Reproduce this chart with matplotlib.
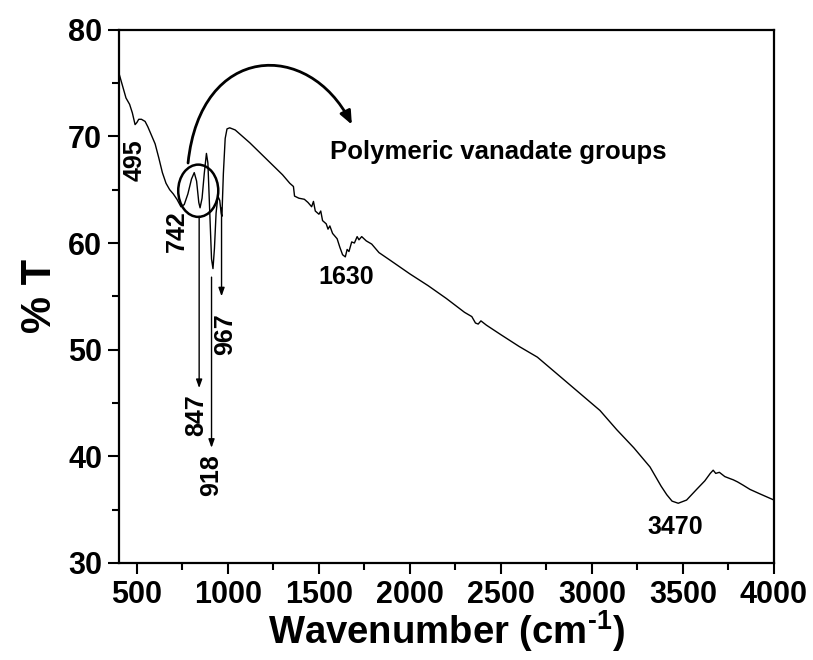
import matplotlib
matplotlib.use("Agg")
import matplotlib.pyplot as plt
from matplotlib.patches import Ellipse, FancyArrowPatch
from matplotlib.path import Path
from matplotlib.ticker import MultipleLocator

# FTIR spectrum (wavenumber in cm-1, %T)
wavenumber = [400, 420, 440, 460, 475, 490, 500, 510, 525, 545, 560, 580, 600, 620, 640,
              660, 680, 700, 720, 742, 760, 780, 800, 815, 828, 840, 847, 858, 870, 882,
              890, 900, 910, 918, 926, 935, 945, 955, 963, 967, 975, 985, 995, 1010, 1040,
              1080, 1120, 1180, 1240, 1300, 1340, 1360, 1366, 1390, 1420, 1440, 1460, 1470,
              1480, 1500, 1510, 1520, 1540, 1550, 1560, 1575, 1600, 1615, 1630, 1645, 1655,
              1665, 1680, 1695, 1710, 1720, 1735, 1760, 1790, 1830, 1890, 2000, 2100, 2200,
              2300, 2340, 2360, 2375, 2390, 2420, 2500, 2600, 2700, 2824, 2934, 3044, 3136,
              3230, 3319, 3380, 3411, 3440, 3474, 3520, 3575, 3620, 3650, 3666, 3680, 3700,
              3730, 3760, 3776, 3800, 3830, 3868, 3920, 3960, 4000]
transmittance = [76.0, 74.8, 73.6, 73.0, 72.2, 71.1, 71.3, 71.6, 71.6, 71.4, 70.9, 70.1, 69.3,
                 68.0, 66.6, 65.6, 65.0, 64.6, 64.1, 63.4, 63.6, 64.6, 66.0, 66.6, 65.8, 63.8,
                 63.3, 64.2, 66.5, 68.4, 67.5, 63.0, 58.5, 57.6, 59.5, 62.8, 64.4, 64.0, 62.8,
                 62.5, 66.5, 69.8, 70.7, 70.8, 70.6, 70.0, 69.4, 68.4, 67.4, 66.4, 65.6, 65.3,
                 64.4, 64.2, 64.1, 63.8, 63.4, 63.9, 63.0, 62.7, 63.0, 62.1, 61.8, 61.3, 61.6,
                 60.9, 60.4, 59.6, 58.9, 58.7, 59.4, 59.2, 60.1, 60.0, 60.6, 60.3, 60.6, 60.2,
                 59.9, 59.1, 58.4, 57.1, 56.0, 54.8, 53.5, 53.1, 52.5, 52.4, 52.7, 52.3, 51.4,
                 50.3, 49.3, 47.5, 45.9, 44.3, 42.5, 40.8, 39.0, 37.2, 36.4, 35.8, 35.6, 35.9,
                 36.9, 37.7, 38.4, 38.7, 38.4, 38.5, 38.1, 37.9, 37.8, 37.6, 37.3, 36.9, 36.5,
                 36.2, 35.9]

# Band assignments: (label, x, y)
band_labels = ["495", "742", "847", "918", "967"]
band_label_x = [489, 722, 828, 907, 986]
band_label_y = [67.8, 61.1, 43.9, 38.2, 51.5]
flat_labels = ["1630", "3470"]
flat_label_x = [1652, 3456]
flat_label_y = [56.8, 33.4]

# Vertical pointer arrows: (x, start y, end y)
arrow_x = [842, 910, 965]
arrow_y0 = [62.5, 56.8, 63.3]
arrow_y1 = [46.4, 40.8, 55.0]

xticks = [500, 1000, 1500, 2000, 2500, 3000, 3500, 4000]
yticks = [30, 40, 50, 60, 70, 80]

plt.rcParams["font.family"] = ["Liberation Sans", "DejaVu Sans"]
plt.rcParams["mathtext.fontset"] = "custom"
plt.rcParams["mathtext.bf"] = "Liberation Sans:bold"
plt.rcParams["mathtext.rm"] = "Liberation Sans:bold"

fig = plt.figure(figsize=(8.13, 6.6), dpi=100)
ax = fig.add_axes([0.146, 0.147, 0.806, 0.808])

ax.plot(wavenumber, transmittance, color="black", lw=1.0)

ax.set_xlim(400, 4000)
ax.set_ylim(30, 80)
ax.set_xticks(xticks)
ax.set_yticks(yticks)
ax.xaxis.set_minor_locator(MultipleLocator(250))
ax.yaxis.set_minor_locator(MultipleLocator(5))
ax.tick_params(which="major", direction="out", length=8, width=1.5, pad=4)
ax.tick_params(which="minor", direction="out", length=5, width=1.5)
for s in ax.spines.values():
    s.set_linewidth(1.6)
for lab in ax.get_xticklabels() + ax.get_yticklabels():
    lab.set_fontweight("bold")
    lab.set_fontsize(22)

ax.set_xlabel("Wavenumber (cm$^{\\text{-1}}$)", fontsize=27.5, fontweight="bold", labelpad=-1)
ax.set_ylabel("% T", fontsize=30, fontweight="bold", labelpad=6)

lab_kw = dict(fontsize=18, fontweight="bold", ha="center", va="center")
for t, x, y in zip(band_labels, band_label_x, band_label_y):
    ax.text(x, y, t, rotation=90, **lab_kw)
for t, x, y in zip(flat_labels, flat_label_x, flat_label_y):
    ax.text(x, y, t, **lab_kw)

for x, y0, y1 in zip(arrow_x, arrow_y0, arrow_y1):
    ax.annotate("", xy=(x, y1), xytext=(x, y0),
                arrowprops=dict(arrowstyle="-|>,head_length=0.5,head_width=0.18",
                                color="black", lw=1.0, shrinkA=0, shrinkB=0))

# circle around the vanadate bands
ax.add_patch(Ellipse((837, 64.9), 220, 4.9, fill=False, lw=1.8, color="black"))

# curved arrow pointing to the caption
curve = Path([(781, 67.5), (850, 78.8), (1444, 79.1), (1681, 71.1)],
             [Path.MOVETO, Path.CURVE4, Path.CURVE4, Path.CURVE4])
ax.add_patch(FancyArrowPatch(path=curve, arrowstyle="-|>,head_length=0.4,head_width=0.17",
                             mutation_scale=20, color="black", lw=2.0, clip_on=False))
ax.text(1560, 68.5, "Polymeric vanadate groups", fontsize=18.5, fontweight="bold",
        ha="left", va="center")

fig.savefig("out.png", dpi=100)
